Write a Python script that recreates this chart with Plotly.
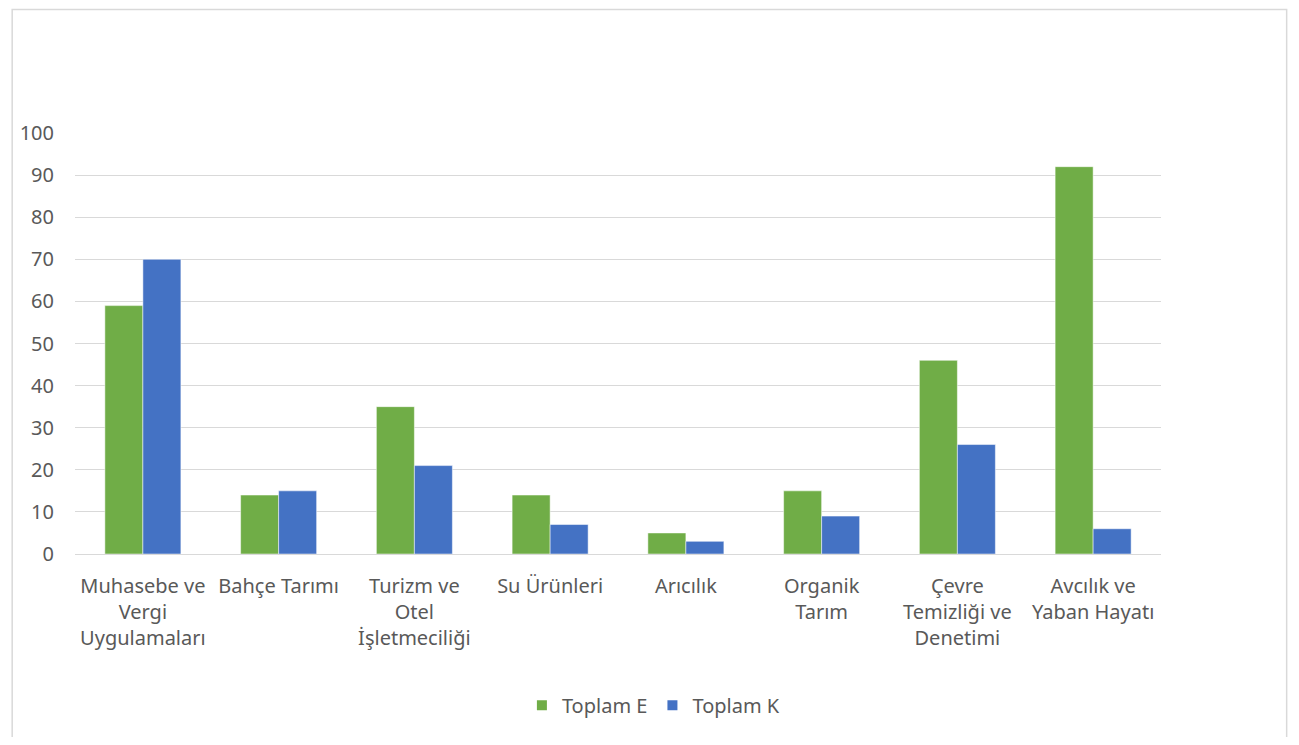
import plotly.graph_objects as go

categories = ["Muhasebe ve<br>Vergi<br>Uygulamaları", "Bahçe Tarımı", "Turizm ve<br>Otel<br>İşletmeciliği",
              "Su Ürünleri", "Arıcılık", "Organik<br>Tarım", "Çevre<br>Temizliği ve<br>Denetimi",
              "Avcılık ve<br>Yaban Hayatı"]
toplam_e = [59, 14, 35, 14, 5, 15, 46, 92]
toplam_k = [70, 15, 21, 7, 3, 9, 26, 6]
y_ticks = [0, 10, 20, 30, 40, 50, 60, 70, 80, 90, 100]

FONT = "Noto Sans"
GRAY = "#595959"
FS = 20

fig = go.Figure()
fig.add_trace(go.Bar(x=categories, y=toplam_e, name="Toplam E",
                     marker=dict(color="#70AD47", line=dict(color="#FFFFFF", width=0.5))))
fig.add_trace(go.Bar(x=categories, y=toplam_k, name="Toplam K",
                     marker=dict(color="#4472C4", line=dict(color="#FFFFFF", width=0.5))))

# page offset (browser body margin), keep figure inside viewport to avoid scrollbars
OFF = 8
L, R, T, B = 72, 1161, 133, 556
W, H = 1299 - 2 * OFF, 745 - 2 * OFF

def px_x(p):
    return (p - L) / (R - L)

def px_y(p):
    return (B - p) / (B - T)

fig.update_layout(
    width=W, height=H,
    margin=dict(l=L - OFF, r=W - (R - OFF), t=T - OFF, b=H - (B - OFF)),
    paper_bgcolor="white", plot_bgcolor="white",
    barmode="group", bargap=0.44, bargroupgap=0,
    font=dict(family=FONT, size=FS, color=GRAY),
    showlegend=True,
    legend=dict(orientation="h", x=px_x(652), xanchor="center", y=px_y(708), yanchor="middle",
                font=dict(size=FS, color=GRAY), itemsizing="constant", traceorder="normal"),
    xaxis=dict(showgrid=False, showline=False, tickfont=dict(size=FS, color=GRAY),
               ticks="", ticklabelstandoff=18),
    yaxis=dict(range=[0, 100], tickvals=y_ticks, showgrid=True, gridcolor="#D9D9D9", gridwidth=1,
               zeroline=True, zerolinecolor="#D9D9D9", zerolinewidth=1, showline=False,
               tickfont=dict(size=FS, color=GRAY), ticks="", ticklabelstandoff=20),
    shapes=[dict(type="rect", xref="paper", yref="paper",
                 x0=px_x(OFF + 1), x1=px_x(1287), y0=px_y(760), y1=px_y(OFF + 1),
                 line=dict(color="#D9D9D9", width=1.5), fillcolor="rgba(0,0,0,0)", layer="below")],
)

fig.write_html("out.html")
